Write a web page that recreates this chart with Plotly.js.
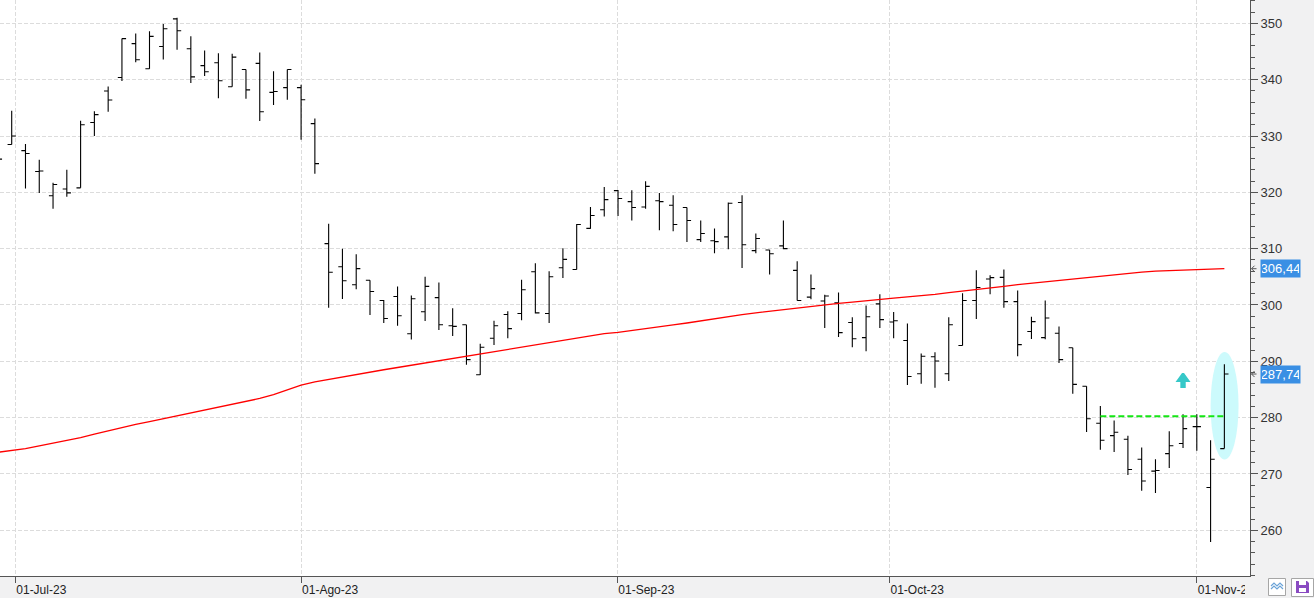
<!DOCTYPE html>
<html>
<head>
<meta charset="utf-8">
<script src="https://cdn.plot.ly/plotly-3.0.1.min.js"></script>
<style>
  html, body { margin: 0; padding: 0; background: #f1f1f2; }
  #chart { width: 1314px; height: 598px; }
</style>
</head>
<body>
<div id="chart"></div>
<script>
// ---- data (daily bars, first one is cut by the left edge) ----
const opens  = [326.2, 328.5, 327.4, 323.7, 319.4, 320.6, 320.8, 332.4, 338.0, 340.4,
                346.4, 341.95, 345.9, 350.8, 345.5, 342.5, 343.0, 338.75, 341.8, 342.9,
                337.75, 338.6, 338.6, 332.2, 310.9, 306.8, 303.6, 304.4, 300.8, 301.5,
                294.9, 298.8, 301.3, 296.3, 296.5, 287.6, 294.1, 298.3, 298.5, 305.9,
                298.5, 306.6, 306.3, 313.6, 316.9, 320.3, 318.35, 317.4, 318.5, 317.7,
                317.3, 311.6, 311.4, 312.1, 318.2, 309.65, 309.75, 310.5, 306.15, 301.4,
                300.7, 300.4, 296.9, 294.2, 300.2, 296.97, 293.7, 287.8, 290.8, 287.8,
                292.8, 300.8, 304.6, 304.9, 300.6, 295.3, 294.2, 294.97, 292.4, 285.56,
                279.0, 276.8, 276.15, 272.6, 270.5, 273.6, 275.4, 278.4, 267.6, 274.5];
const highs  = [327.0, 334.5, 328.6, 325.8, 321.7, 324.0, 332.7, 334.4, 338.8, 347.3,
                348.2, 348.6, 349.9, 351.0, 347.7, 345.2, 344.7, 344.6, 341.8, 344.85,
                341.5, 341.8, 339.1, 333.13, 314.44, 310.0, 309.0, 304.4, 300.9, 303.3,
                301.7, 305.0, 304.0, 299.4, 296.5, 293.1, 297.2, 298.9, 304.5, 307.4,
                306.0, 310.06, 314.4, 317.4, 320.94, 320.4, 320.35, 321.95, 319.9, 319.5,
                317.3, 315.0, 313.6, 318.2, 319.5, 312.7, 309.8, 315.0, 307.75, 305.4,
                301.8, 302.2, 297.8, 299.9, 301.9, 298.75, 296.7, 291.4, 291.6, 297.8,
                302.1, 306.15, 305.3, 306.3, 302.55, 297.9, 300.8, 296.2, 292.4, 285.56,
                282.06, 279.5, 276.8, 274.7, 272.6, 277.57, 280.6, 280.6, 275.97, 289.46];
const lows   = [325.0, 328.5, 320.7, 319.9, 317.1, 319.2, 320.8, 330.0, 334.3, 339.75,
                343.1, 341.95, 343.6, 345.3, 339.4, 340.65, 336.7, 338.75, 336.6, 332.65,
                335.5, 336.45, 329.35, 323.3, 299.53, 301.06, 302.8, 298.2, 296.8, 296.3,
                293.85, 297.15, 295.55, 294.5, 289.4, 287.56, 292.9, 294.1, 297.3, 298.5,
                296.8, 304.8, 306.3, 313.55, 315.7, 315.8, 315.0, 317.1, 313.25, 313.1,
                311.2, 311.2, 309.2, 309.9, 306.56, 309.2, 305.4, 309.9, 300.8, 301.0,
                295.9, 294.3, 292.5, 291.8, 295.9, 294.1, 285.8, 286.0, 285.3, 286.5,
                292.8, 297.5, 301.9, 299.5, 290.9, 293.96, 293.9, 289.7, 284.26, 277.45,
                274.3, 273.9, 269.8, 267.0, 266.6, 271.05, 274.6, 274.1, 257.9, 274.5];
const closes = [325.9, 330.0, 326.9, 323.8, 321.4, 319.9, 332.0, 333.8, 336.4, 347.3,
                343.55, 347.7, 349.05, 348.7, 340.5, 341.4, 339.8, 344.0, 338.2, 334.3,
                337.9, 341.8, 336.45, 325.1, 305.8, 304.3, 306.45, 302.4, 297.6, 298.1,
                301.1, 303.3, 296.5, 296.2, 290.3, 292.5, 296.3, 295.8, 302.7, 298.6,
                305.0, 308.1, 314.3, 315.9, 318.7, 318.9, 317.3, 321.06, 318.35, 314.3,
                315.0, 312.7, 311.25, 318.05, 310.7, 311.8, 309.1, 310.0, 300.8, 302.9,
                301.6, 295.1, 294.0, 297.9, 297.4, 297.2, 287.3, 290.9, 290.05, 296.5,
                300.8, 303.1, 304.85, 300.6, 292.96, 297.04, 297.7, 290.3, 285.9, 279.8,
                275.97, 277.4, 270.8, 268.75, 270.6, 275.0, 278.05, 278.4, 272.6, 287.74];
// red moving average at every bar
const movingAvg = [273.85, 274.15, 274.5, 275.0, 275.45, 275.9, 276.45, 277.05, 277.65, 278.25,
                   278.8, 279.3, 279.8, 280.35, 280.85, 281.35, 281.85, 282.35, 282.85, 283.4,
                   284.1, 284.9, 285.75, 286.35, 286.8, 287.25, 287.7, 288.1, 288.5, 288.9,
                   289.3, 289.7, 290.1, 290.5, 290.9, 291.3, 291.65, 292.05, 292.45, 292.85,
                   293.3, 293.75, 294.15, 294.55, 294.9, 295.15, 295.45, 295.8, 296.1, 296.45,
                   296.8, 297.2, 297.55, 297.9, 298.3, 298.6, 298.9, 299.2, 299.45, 299.7,
                   300.0, 300.3, 300.5, 300.7, 300.95, 301.2, 301.45, 301.65, 301.9, 302.2,
                   302.45, 302.7, 302.95, 303.3, 303.6, 303.85, 304.1, 304.4, 304.65, 304.95,
                   305.2, 305.45, 305.65, 305.85, 306.0, 306.1, 306.2, 306.3, 306.37, 306.44];
// month grid positions (in bar units, first visible full bar = 0) and their labels
const monthTickPos    = [0.26, 21, 43.95, 63.7, 86];
const monthTickLabels = ['01-Jul-23', '01-Ago-23', '01-Sep-23', '01-Oct-23', '01-Nov-23'];
// green dashed breakout level (bar from .. to, price)
const levelBars  = [79, 88];
const levelPrice = [280.23, 280.23];
// cyan arrow: bar index and price of its base
const arrowBar   = [85];
const arrowPrice = [286.32];

// ---- build ----
const idx = opens.map((_, i) => i - 1);
const last = idx.length - 1;
const lastX = idx[last];

const fmt = v => v.toFixed(2).replace('.', ',');

const ohlc = {
  type: 'ohlc',
  x: idx, open: opens, high: highs, low: lows, close: closes,
  increasing: { line: { color: '#000000', width: 1.1 } },
  decreasing: { line: { color: '#000000', width: 1.1 } },
  tickwidth: 0.3,
  hoverinfo: 'none',
  showlegend: false
};
const ma = {
  type: 'scatter', mode: 'lines',
  x: idx, y: movingAvg,
  line: { color: '#ff0000', width: 1.3 },
  hoverinfo: 'none', showlegend: false
};
const level = {
  type: 'scatter', mode: 'lines',
  x: levelBars, y: levelPrice,
  line: { color: '#14e614', width: 2, dash: '6px,3px' },
  hoverinfo: 'none', showlegend: false
};

const paperBg = '#f1f1f2';
const narrow = '"Liberation Sans Narrow", "Liberation Sans", Arial, sans-serif';

const shapes = [
  // highlight ellipse around the last bar
  { type: 'circle', xref: 'x', yref: 'y', layer: 'between',
    x0: lastX - 1.0, x1: lastX + 1.03, y0: lows[last] - 1.95, y1: highs[last] + 2.2,
    fillcolor: '#ccfafc', line: { width: 0 } },
  // cyan up arrow
  { type: 'path', xref: 'x', yref: 'y', xsizemode: 'pixel', ysizemode: 'pixel',
    xanchor: arrowBar[0], yanchor: arrowPrice[0], layer: 'above',
    path: 'M -7.5 0 L -1 9 L 1 9 L 7.5 0 L 2.7 0 L 2.7 -6 L -2.7 -6 L -2.7 0 Z',
    fillcolor: '#36c8c8', line: { width: 0 } },
  // cover for the clipped last date label
  { type: 'rect', xref: 'paper', yref: 'paper', xsizemode: 'pixel', ysizemode: 'pixel',
    xanchor: 1, yanchor: 0, x0: -5, x1: 64, y0: -1, y1: -23, layer: 'above',
    fillcolor: paperBg, line: { width: 0 } },
  // bottom-right buttons
  { type: 'rect', xref: 'paper', yref: 'paper', xsizemode: 'pixel', ysizemode: 'pixel',
    xanchor: 1, yanchor: 0, x0: 18.5, x1: 35.5, y0: -2.5, y1: -19.5, layer: 'above',
    fillcolor: '#ffffff', line: { width: 1, color: '#a6a6a6' } },
  { type: 'path', xref: 'paper', yref: 'paper', xsizemode: 'pixel', ysizemode: 'pixel',
    xanchor: 1, yanchor: 0, layer: 'above',
    path: 'M 21 -10 L 24 -7 L 27 -10 L 30 -7 L 33 -10 M 21 -13 L 24 -10 L 27 -13 L 30 -10 L 33 -13',
    line: { width: 1.2, color: '#6aa3d8' } },
  { type: 'rect', xref: 'paper', yref: 'paper', xsizemode: 'pixel', ysizemode: 'pixel',
    xanchor: 1, yanchor: 0, x0: 41.5, x1: 63.5, y0: -2.5, y1: -20.5, layer: 'above',
    fillcolor: '#ffffff', line: { width: 1, color: '#a6a6a6' } },
  { type: 'path', xref: 'paper', yref: 'paper', xsizemode: 'pixel', ysizemode: 'pixel',
    xanchor: 1, yanchor: 0, layer: 'above',
    path: 'M 46 -5 L 57 -5 L 59 -7 L 59 -17 L 46 -17 Z',
    fillcolor: '#8a4bc2', line: { width: 0 } },
  { type: 'rect', xref: 'paper', yref: 'paper', xsizemode: 'pixel', ysizemode: 'pixel',
    xanchor: 1, yanchor: 0, x0: 49, x1: 56, y0: -5, y1: -9, layer: 'above',
    fillcolor: '#ffffff', line: { width: 0 } },
  { type: 'rect', xref: 'paper', yref: 'paper', xsizemode: 'pixel', ysizemode: 'pixel',
    xanchor: 1, yanchor: 0, x0: 49, x1: 56, y0: -12, y1: -16, layer: 'above',
    fillcolor: '#ffffff', line: { width: 0 } }
];

// small pointer marks next to the value labels
[movingAvg[last], closes[last]].forEach(v => {
  shapes.push({ type: 'path', xref: 'paper', yref: 'y', xsizemode: 'pixel', ysizemode: 'pixel',
    xanchor: 1, yanchor: v, layer: 'above',
    path: 'M 6.5 0 L 1.5 0 M 4.5 3 L 1.5 0 L 4.5 -3',
    line: { width: 1, color: '#555555' } });
});

const annotations = [movingAvg[last], closes[last]].map(v => ({
  xref: 'paper', x: 1, xanchor: 'left', xshift: 10,
  yref: 'y', y: v, yanchor: 'middle',
  text: fmt(v), showarrow: false,
  bgcolor: '#3a8fe4', borderpad: 1, width: 37, height: 15,
  font: { family: narrow, size: 13, color: '#ffffff' }
}));

const layout = {
  width: 1314, height: 598,
  margin: { l: 0, r: 64, t: 0, b: 22, pad: 0 },
  paper_bgcolor: paperBg,
  plot_bgcolor: '#ffffff',
  showlegend: false,
  dragmode: false,
  xaxis: {
    type: 'linear',
    range: [-0.849, 89.86],
    tickmode: 'array', tickvals: monthTickPos, ticktext: monthTickLabels,
    ticks: 'outside', ticklen: 6, tickcolor: '#555555', tickwidth: 1,
    ticklabelposition: 'outside right', ticklabeloverflow: 'allow',
    ticklabelstandoff: 3,
    tickfont: { family: '"Liberation Sans", Arial, sans-serif', size: 12, color: '#222222' },
    showgrid: true, gridcolor: '#dcdcdc', griddash: '4px,2px', gridwidth: 1,
    showline: true, linecolor: '#555555', linewidth: 1,
    zeroline: false, fixedrange: true,
    rangeslider: { visible: false }
  },
  yaxis: {
    side: 'right',
    range: [251.88, 354.15],
    tick0: 0, dtick: 10,
    ticks: 'outside', ticklen: 7, tickcolor: '#555555', tickwidth: 1,
    minor: { dtick: 2, ticks: 'outside', ticklen: 4, tickcolor: '#555555', showgrid: false },
    tickfont: { family: narrow, size: 13, color: '#333333' },
    showgrid: true, gridcolor: '#dcdcdc', griddash: '4px,2px', gridwidth: 1,
    showline: true, linecolor: '#555555', linewidth: 1,
    zeroline: false, fixedrange: true
  },
  shapes: shapes,
  annotations: annotations
};

Plotly.newPlot('chart', [ohlc, ma, level], layout, { displayModeBar: false, staticPlot: true });
</script>
</body>
</html>
